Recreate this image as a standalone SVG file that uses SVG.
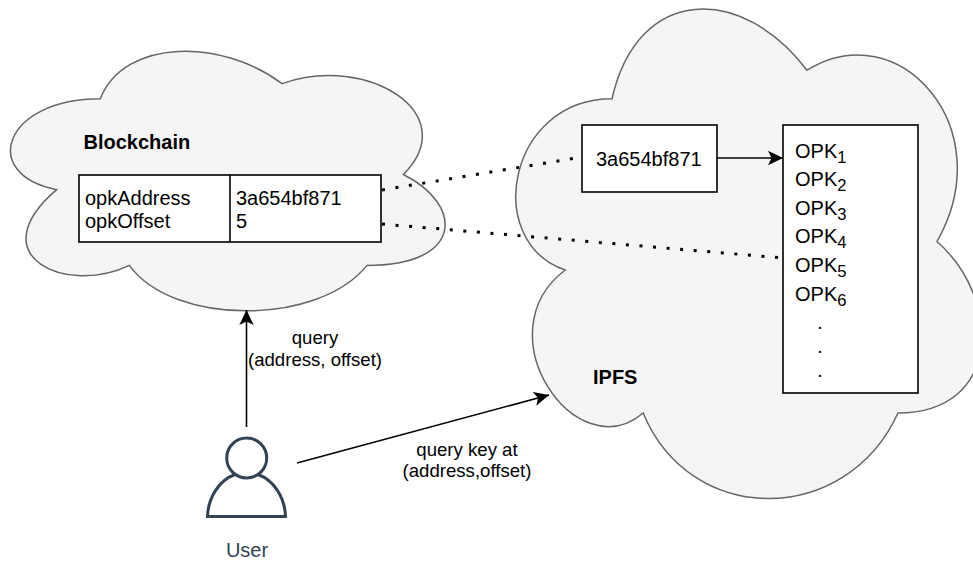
<svg xmlns="http://www.w3.org/2000/svg" width="973" height="561" viewBox="0 0 973 561">
<style>
text{font-family:"Liberation Sans",Arial,sans-serif;font-size:20px;fill:#000}
.b{font-weight:bold}
.m{text-anchor:middle}
.l{font-size:18.6px}
.cloud{fill:#f5f5f5;stroke:#666;stroke-width:1.5}
.box{fill:#fff;stroke:#000;stroke-width:1.6}
.line{fill:none;stroke:#000;stroke-width:1.6}
.dot{fill:none;stroke:#000;stroke-width:3;stroke-dasharray:3 10.6}
.sub{font-size:16.6px}
</style>
<defs>
<marker id="arrow" markerUnits="userSpaceOnUse" markerWidth="16" markerHeight="16" refX="15" refY="8" orient="auto"><path d="M0 0.8L15 8L0 15.2L3.6 8Z" fill="#000"/></marker>
</defs>
<g id="cloud-blockchain"><path class="cloud" d="M100.25 98.75C3.25 98.75-21 174.5 56.6 189.65C-21 256.3 66.3 295.7 129.35 265.4C173 326 318.5 326 367 265.4C464 265.4 464 204.8 403.4 174.5C464 113.9 367 53.3 282.1 83.6C221.5 38.15 124.5 38.15 100.25 98.75Z"/></g>
<g id="cloud-ipfs"><path class="cloud" d="M612 98.75C508 98.75 482 241.5 565.2 270C482 332.9 575.6 470 643.2 413C690 527 846 527 898 413C1002 413 1002 298.6 937 241.5C1002 127.3 898 13 807 70.2C742 -15.5 638 -15.5 612 98.75Z"/></g>
<g id="label-blockchain"><text class="b" x="83.5" y="149">Blockchain</text></g>
<g id="label-ipfs"><text class="b" x="593" y="384">IPFS</text></g>
<g id="table">
<rect class="box" x="79" y="175" width="302" height="67"/>
<path class="line" d="M230 175V242"/>
<text x="85" y="205">opkAddress</text>
<text x="85" y="228">opkOffset</text>
<text x="236" y="205">3a654bf871</text>
<text x="236" y="228">5</text>
</g>
<g id="address-box">
<rect class="box" x="582" y="125" width="135" height="67"/>
<text x="596" y="166">3a654bf871</text>
</g>
<g id="opk-box">
<rect class="box" x="783" y="125" width="135" height="268"/>
<text x="795" y="158">OPK<tspan class="sub" dy="5">1</tspan></text>
<text x="795" y="186">OPK<tspan class="sub" dy="5">2</tspan></text>
<text x="795" y="215">OPK<tspan class="sub" dy="5">3</tspan></text>
<text x="795" y="243">OPK<tspan class="sub" dy="5">4</tspan></text>
<text x="795" y="272">OPK<tspan class="sub" dy="5">5</tspan></text>
<text x="795" y="301">OPK<tspan class="sub" dy="5">6</tspan></text>
<text class="m" x="820" y="329">.</text>
<text class="m" x="820" y="353">.</text>
<text class="m" x="820" y="377">.</text>
</g>
<g id="user">
<circle cx="246.7" cy="458" r="20" fill="none" stroke="#314354" stroke-width="3"/>
<path d="M235 474.5A39 46 0 0 0 207.5 516.5H285.5A39 46 0 0 0 258 474.5" fill="none" stroke="#314354" stroke-width="3"/>
<text class="m" x="247" y="557" style="fill:#314354">User</text>
</g>
<g id="connectors">
<path class="dot" d="M382 190L582 157"/>
<path class="dot" d="M382 224L783 258"/>
<path class="line" d="M717 158H783" marker-end="url(#arrow)"/>
<path class="line" d="M246.5 427V310" marker-end="url(#arrow)"/>
<path class="line" d="M297 463L549 395" marker-end="url(#arrow)"/>
</g>
<g id="connector-labels">
<text class="m l" x="315" y="344">query</text>
<text class="m l" x="315" y="366">(address, offset)</text>
<text class="m l" x="467" y="456">query key at</text>
<text class="m l" x="467" y="477">(address,offset)</text>
</g>
</svg>
